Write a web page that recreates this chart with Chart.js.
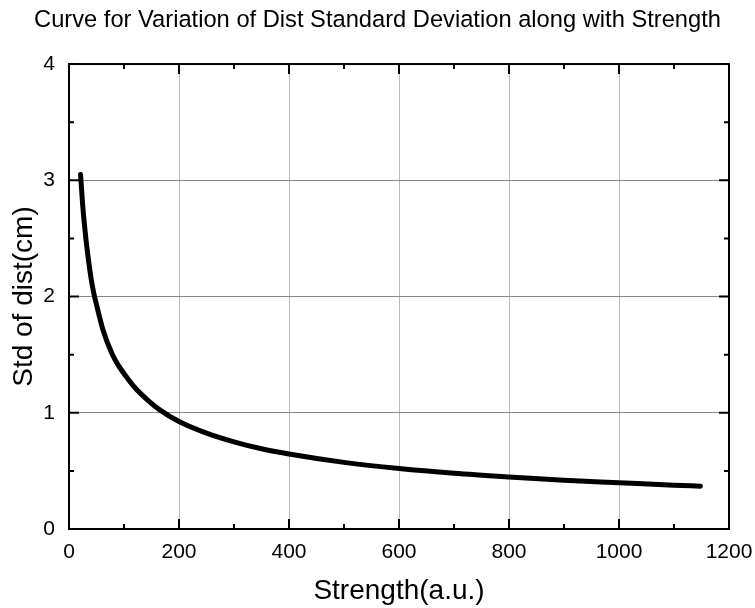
<!DOCTYPE html>
<html>
<head>
<meta charset="utf-8">
<script src="https://cdn.jsdelivr.net/npm/chart.js@4.4.1/dist/chart.umd.min.js"></script>
<style>
  html, body { margin: 0; padding: 0; background: #fff; }
  #wrap { width: 755px; height: 608px; }
</style>
</head>
<body>
<div id="wrap"><canvas id="c" width="755" height="608"></canvas></div>
<script>
// Data
const strength = [21, 25, 30, 35, 40, 45, 50, 62, 78, 90, 105, 120, 144, 165, 200, 250, 300, 350, 400, 500, 600, 700, 800, 900, 1000, 1100, 1148];
const stdDist  = [3.05, 2.78, 2.53, 2.33, 2.16, 2.03, 1.93, 1.71, 1.51, 1.405, 1.305, 1.215, 1.105, 1.025, 0.925, 0.825, 0.75, 0.69, 0.645, 0.573, 0.52, 0.479, 0.447, 0.419, 0.398, 0.377, 0.368];
const xTicks = [0, 200, 400, 600, 800, 1000, 1200];
const yTicks = [0, 1, 2, 3, 4];
const xMinorTicks = [100, 300, 500, 700, 900, 1100];
const yMinorTicks = [0.5, 1.5, 2.5, 3.5];

const FONT = "'Liberation Sans', Arial, Helvetica, sans-serif";

const points = strength.map((x, i) => ({ x: x, y: stdDist[i] }));

const framePlugin = {
  id: 'frameTicks',
  afterDraw(chart) {
    const { ctx, chartArea: a, scales } = chart;
    const xs = scales.x, ys = scales.y;
    ctx.save();
    ctx.strokeStyle = '#000';
    ctx.lineWidth = 2;
    ctx.lineCap = 'butt';
    ctx.beginPath();
    const major = 10, minor = 5;
    xTicks.forEach(v => {
      const px = xs.getPixelForValue(v);
      ctx.moveTo(px, a.bottom); ctx.lineTo(px, a.bottom - major);
      ctx.moveTo(px, a.top); ctx.lineTo(px, a.top + major);
    });
    xMinorTicks.forEach(v => {
      const px = xs.getPixelForValue(v);
      ctx.moveTo(px, a.bottom); ctx.lineTo(px, a.bottom - minor);
      ctx.moveTo(px, a.top); ctx.lineTo(px, a.top + minor);
    });
    yTicks.forEach(v => {
      const py = ys.getPixelForValue(v);
      ctx.moveTo(a.left, py); ctx.lineTo(a.left + major, py);
      ctx.moveTo(a.right, py); ctx.lineTo(a.right - major, py);
    });
    yMinorTicks.forEach(v => {
      const py = ys.getPixelForValue(v);
      ctx.moveTo(a.left, py); ctx.lineTo(a.left + minor, py);
      ctx.moveTo(a.right, py); ctx.lineTo(a.right - minor, py);
    });
    ctx.stroke();
    ctx.strokeRect(a.left, a.top, a.right - a.left, a.bottom - a.top);
    ctx.restore();
  }
};

new Chart(document.getElementById('c'), {
  type: 'line',
  data: {
    datasets: [{
      data: points,
      borderColor: '#000',
      borderWidth: 5,
      borderCapStyle: 'round',
      borderJoinStyle: 'round',
      pointRadius: 0,
      fill: false,
      cubicInterpolationMode: 'monotone'
    }]
  },
  options: {
    responsive: false,
    animation: false,
    devicePixelRatio: 1,
    layout: { padding: 0 },
    plugins: {
      legend: { display: false },
      tooltip: { enabled: false },
      title: {
        display: true,
        text: 'Curve for Variation of Dist Standard Deviation along with Strength',
        color: '#000',
        font: { family: FONT, size: 23.7, weight: 'normal', lineHeight: 1.2 },
        padding: { top: 6.5, bottom: 29.1 }
      }
    },
    scales: {
      x: {
        type: 'linear',
        min: 0, max: 1200,
        afterBuildTicks: s => { s.ticks = xTicks.map(v => ({ value: v })); },
        afterFit: s => { s.height = 79; s.paddingLeft = 0; s.paddingRight = 0; },
        ticks: { color: '#000', font: { family: FONT, size: 21 }, padding: 11, maxRotation: 0,
                 callback: v => String(v) },
        grid: { color: '#bcbcbc', lineWidth: 1, drawTicks: false },
        border: { display: false },
        title: {
          display: true, text: 'Strength(a.u.)', color: '#000',
          font: { family: FONT, size: 28, lineHeight: 1.2 },
          padding: { top: 0, bottom: 0 }
        }
      },
      y: {
        type: 'linear',
        min: 0, max: 4,
        afterBuildTicks: s => { s.ticks = yTicks.map(v => ({ value: v })); },
        afterFit: s => { s.width = 69; s.paddingTop = 0; s.paddingBottom = 0; },
        ticks: { color: '#000', font: { family: FONT, size: 21 }, padding: 14,
                 callback: v => String(v) },
        grid: { color: '#888888', lineWidth: 1, drawTicks: false },
        border: { display: false },
        title: {
          display: true, text: 'Std of dist(cm)', color: '#000',
          font: { family: FONT, size: 28, lineHeight: 1.2 },
          padding: { top: 7, bottom: 0 }
        }
      },
      yR: {
        type: 'linear',
        position: 'right',
        display: true,
        ticks: { display: false },
        grid: { display: false, drawTicks: false },
        border: { display: false },
        afterFit: s => { s.width = 26; s.paddingTop = 0; s.paddingBottom = 0; }
      }
    }
  },
  plugins: [framePlugin]
});
</script>
</body>
</html>
